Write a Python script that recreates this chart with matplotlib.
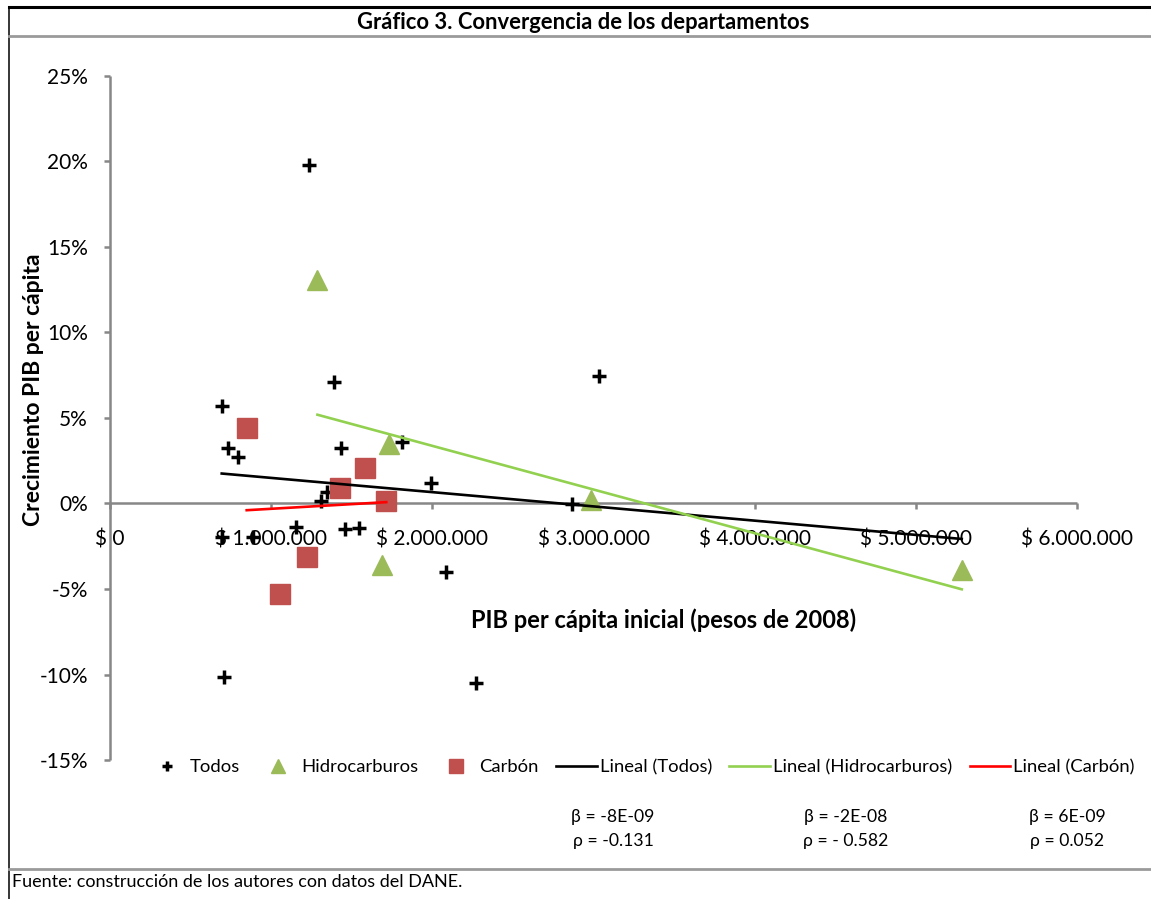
import numpy as np
import matplotlib.pyplot as plt
from matplotlib.lines import Line2D
from matplotlib.ticker import FuncFormatter

plt.rcParams['font.family'] = ['Lato', 'DejaVu Sans']

# PIB per capita inicial (pesos de 2008) y crecimiento (%)
todos_x = [1237000, 1390000, 697000, 1810000, 730000, 797000, 1434000, 1993000,
           1345000, 1308000, 1153000, 1455000, 1544000, 693000, 890000, 2084000,
           706000, 2272000, 3035000, 2866000]
todos_y = [19.8, 7.08, 5.7, 3.57, 3.26, 2.73, 3.26, 1.21,
           0.68, 0.14, -1.4, -1.52, -1.42, -1.95, -1.95, -4.03,
           -10.13, -10.5, 7.45, -0.04]

hidro_x = [1287000, 1730000, 1687000, 2984000, 5285000]
hidro_y = [13.06, 3.5, -3.6, 0.2, -3.9]

carbon_x = [848000, 1583000, 1424000, 1714000, 1225000, 1057000]
carbon_y = [4.43, 2.1, 0.88, 0.16, -3.15, -5.27]

beta_labels = ['β = -8E-09', 'β = -2E-08', 'β = 6E-09']
rho_labels = ['ρ = -0.131', 'ρ = - 0.582', 'ρ = 0.052']

x_ticks = [0, 1000000, 2000000, 3000000, 4000000, 5000000, 6000000]
y_ticks = [-15, -10, -5, 0, 5, 10, 15, 20, 25]

c_hidro = '#9BBB59'
c_carbon = '#C0504D'
c_spine = '#878787'

fig = plt.figure(figsize=(11.51, 8.99), dpi=100)
ax = fig.add_axes([0.0956, 0.1546, 0.8401, 0.7609])


def trend(xs, ys):
    xs = np.asarray(xs, float)
    ys = np.asarray(ys, float)
    b, a = np.polyfit(xs, ys, 1)
    xx = np.array([xs.min(), xs.max()])
    return xx, a + b * xx


all_x = todos_x + hidro_x + carbon_x
all_y = todos_y + hidro_y + carbon_y

ax.plot(todos_x, todos_y, ls='none', marker='+', ms=9.5, mew=2.5, color='black',
        label='Todos', zorder=3)
ax.plot(hidro_x, hidro_y, ls='none', marker='^', ms=14, color=c_hidro,
        label='Hidrocarburos', zorder=3)
ax.plot(carbon_x, carbon_y, ls='none', marker='s', ms=14, color=c_carbon,
        label='Carbón', zorder=3)

tx, ty = trend(all_x, all_y)
ax.plot(tx, ty, color='black', lw=1.9, label='Lineal (Todos)', zorder=4)
tx, ty = trend(hidro_x, hidro_y)
ax.plot(tx, ty, color='#92D050', lw=1.9, label='Lineal (Hidrocarburos)', zorder=4)
tx, ty = trend(carbon_x, carbon_y)
ax.plot(tx, ty, color='#FF0000', lw=1.9, label='Lineal (Carbón)', zorder=4)

ax.set_xlim(0, 6000000)
ax.set_ylim(-15, 25)
ax.set_xticks(x_ticks)
ax.set_yticks(y_ticks)


def peso_fmt(v, pos):
    if v == 0:
        return '$ 0'
    return '$ ' + f'{int(v):,}'.replace(',', '.')


ax.xaxis.set_major_formatter(FuncFormatter(peso_fmt))
ax.yaxis.set_major_formatter(FuncFormatter(lambda v, p: f'{int(v)}%'))

for s in ['top', 'right']:
    ax.spines[s].set_visible(False)
ax.spines['bottom'].set_position(('data', 0))
for s in ['left', 'bottom']:
    ax.spines[s].set_color(c_spine)
    ax.spines[s].set_linewidth(1.8)
    ax.spines[s].set_capstyle('butt')
ax.tick_params(axis='both', direction='out', length=4, width=1.8, color=c_spine,
               labelsize=15)
ax.tick_params(axis='x', pad=15)
ax.tick_params(axis='y', pad=12)

fig.text(0.0287, 0.567, 'Crecimiento PIB per cápita', rotation=90, ha='center',
         va='center', fontsize=16.5, fontweight='bold')
fig.text(0.5769, 0.3103, 'PIB per cápita inicial (pesos de 2008)', ha='center',
         va='center', fontsize=17, fontweight='bold')

fig.text(0.5065, 0.9755, 'Gráfico 3. Convergencia de los departamentos', ha='center',
         va='center', fontsize=15.8, fontweight='bold')
fig.text(0.0105, 0.010, 'Fuente: construcción de los autores con datos del DANE.',
         ha='left', va='bottom', fontsize=13)

fig.legend(loc='center', bbox_to_anchor=(0.5565, 0.1468), ncol=6, frameon=False,
           fontsize=13.3, handlelength=2.2, handletextpad=0.15, columnspacing=0.95,
           markerscale=0.7)

for bx, bl, rl in zip([0.5326, 0.735, 0.927], beta_labels, rho_labels):
    fig.text(bx, 0.0912, bl, ha='center', va='center', fontsize=12.7)
    fig.text(bx, 0.0645, rl, ha='center', va='center', fontsize=12.7)

# marco
fig.add_artist(Line2D([0.0074, 1], [0.9917, 0.9917], color='black', lw=2.2))
fig.add_artist(Line2D([0.0074, 0.0074], [0, 0.9917], color='black', lw=1.1))
fig.add_artist(Line2D([0.0074, 1], [0.9594, 0.9594], color='#9a9a9a', lw=2))
fig.add_artist(Line2D([0.0074, 1], [0.0339, 0.0339], color='#9a9a9a', lw=2))

fig.savefig('out.png', dpi=100)
